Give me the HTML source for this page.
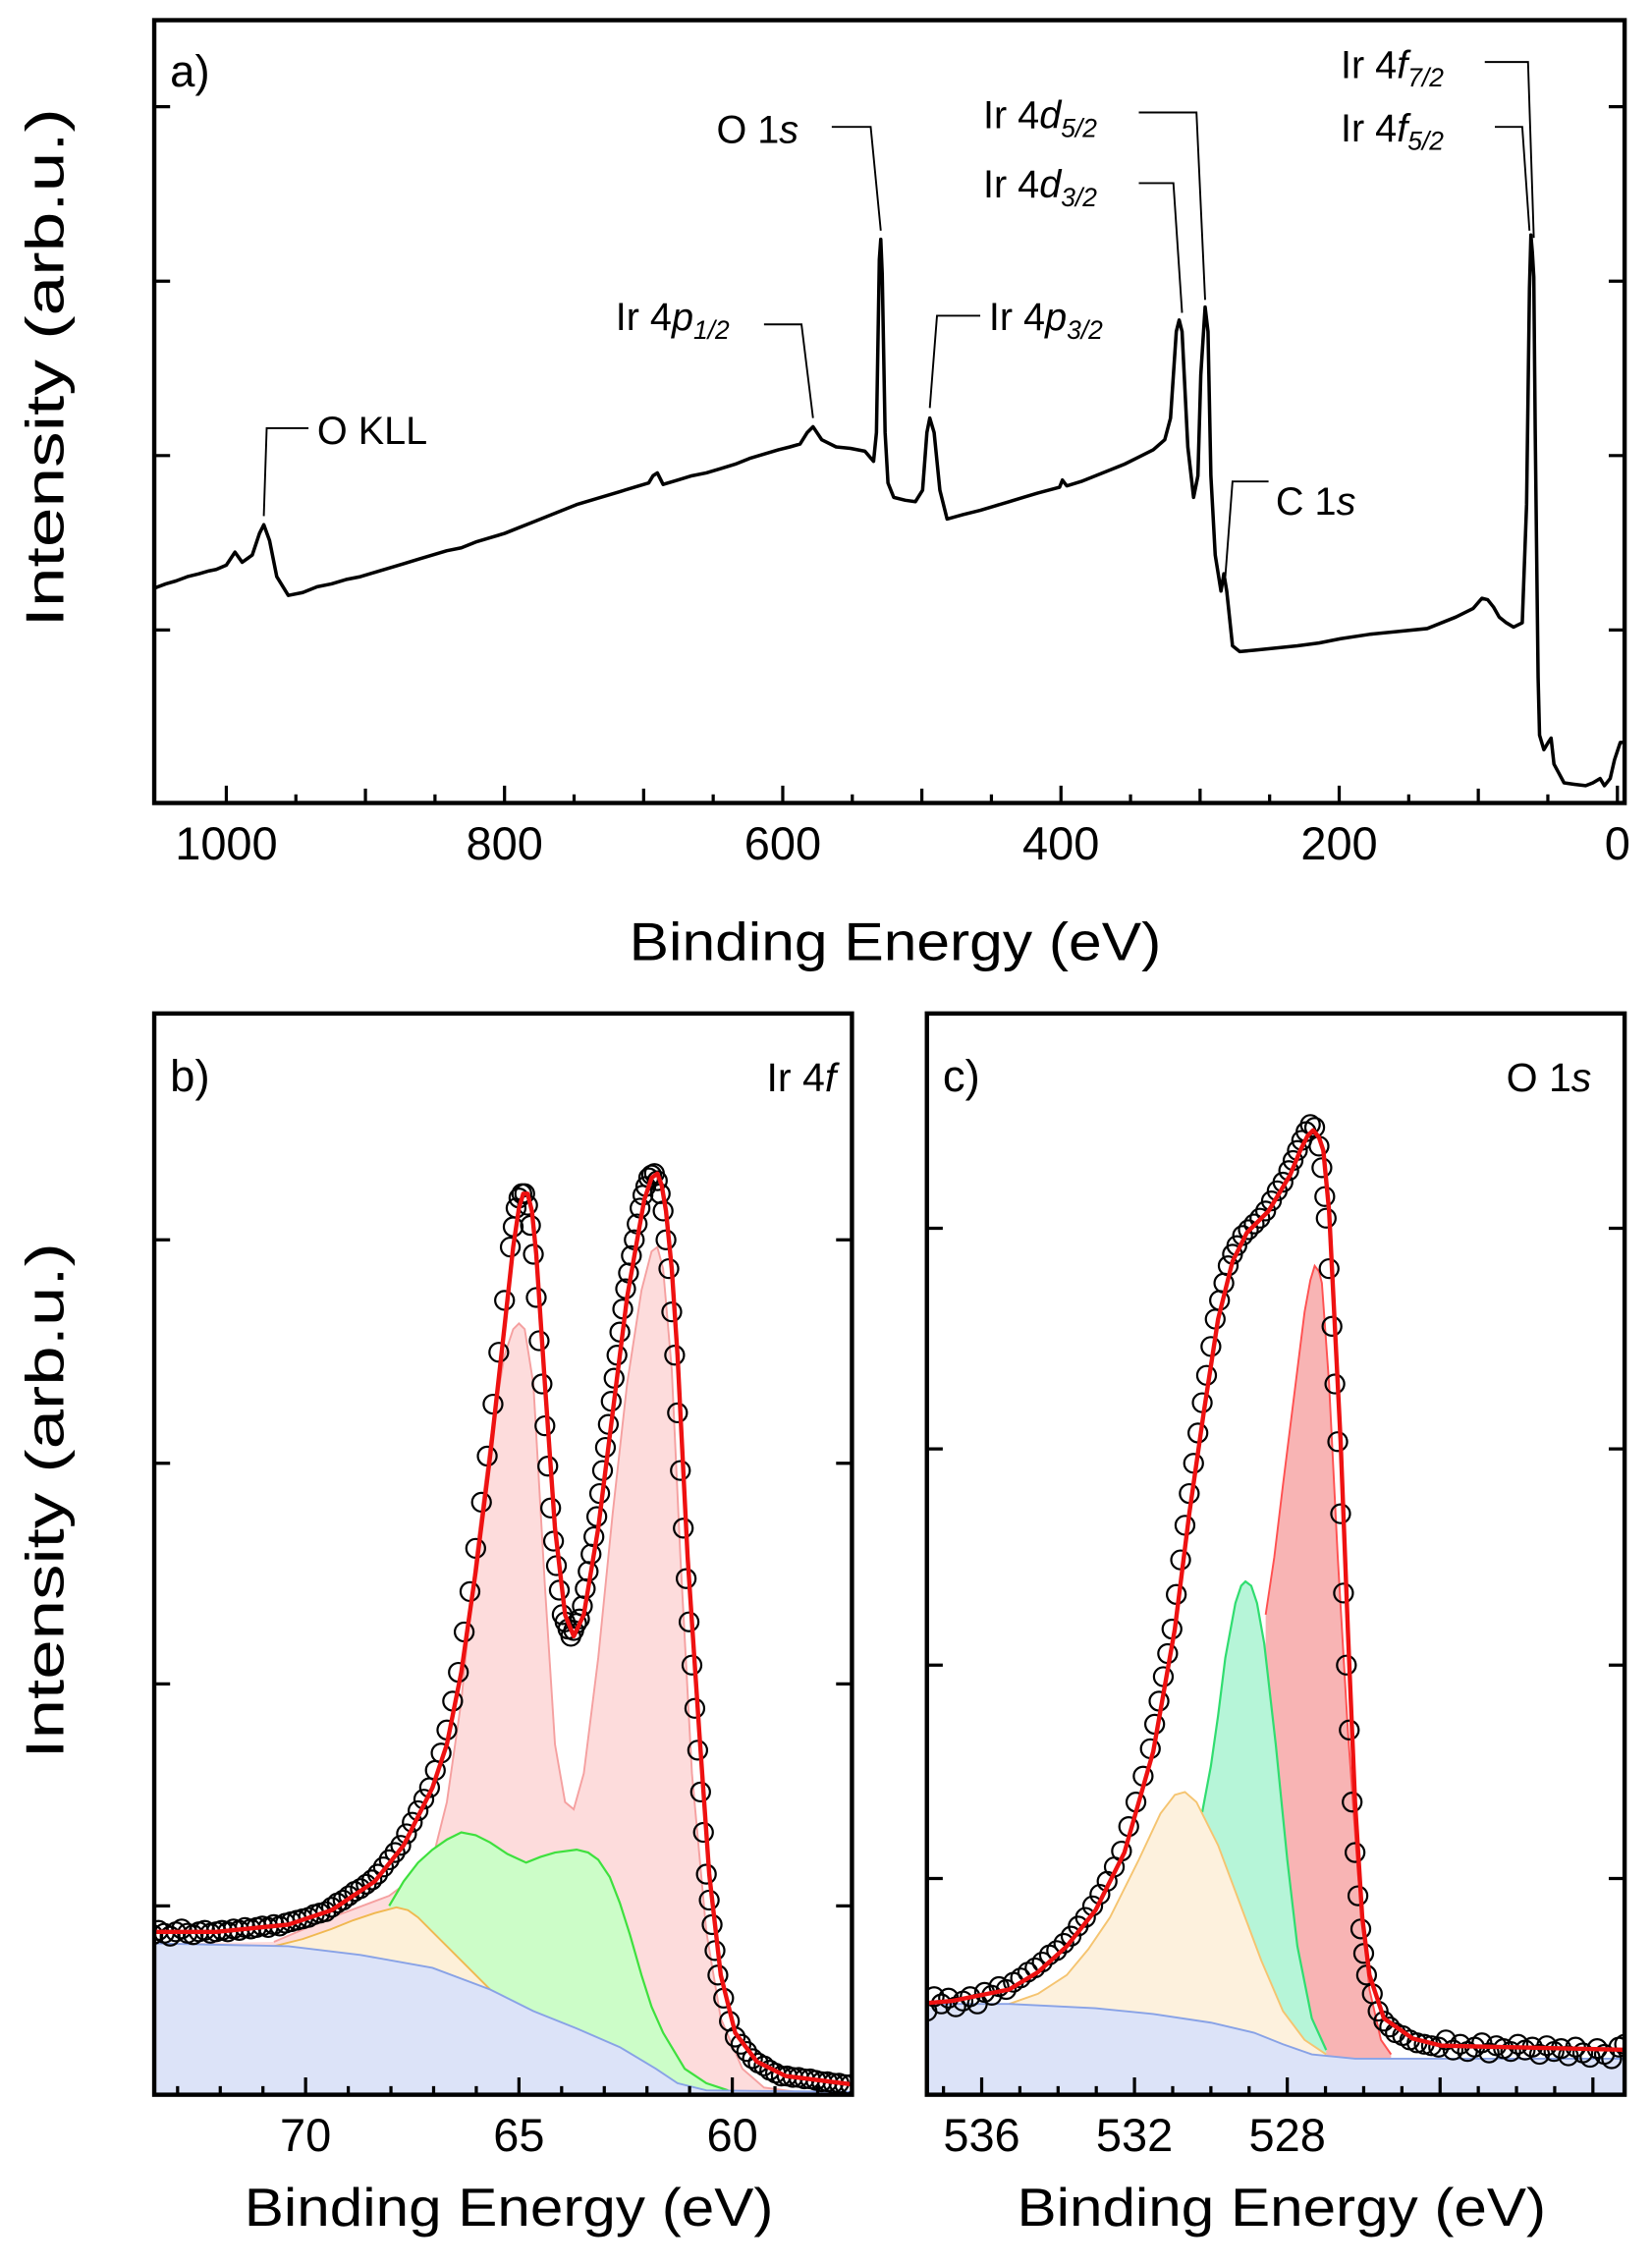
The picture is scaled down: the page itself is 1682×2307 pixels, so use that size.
<!DOCTYPE html>
<html><head><meta charset="utf-8">
<style>
html,body{margin:0;padding:0;background:#fff;}
svg{display:block;}
text{font-family:"Liberation Sans",Arial,sans-serif;fill:#000;}
</style></head>
<body>
<svg xmlns="http://www.w3.org/2000/svg" width="1682" height="2307" viewBox="0 0 1146 1571.8" preserveAspectRatio="none">
<defs>
<clipPath id="ca"><rect x="107" y="14" width="1020" height="543"/></clipPath>
<clipPath id="cb"><rect x="107" y="703" width="484" height="750"/></clipPath>
<clipPath id="cc"><rect x="643" y="703" width="484" height="750"/></clipPath>
<marker id="m" markerWidth="20" markerHeight="20" refX="10" refY="10" markerUnits="userSpaceOnUse" overflow="visible"><circle cx="10" cy="10" r="6.5" fill="none" stroke="#000" stroke-width="1.5"/></marker>
</defs>

<!-- Panel a spectrum -->
<polyline clip-path="url(#ca)" fill="none" stroke="#000" stroke-width="2.4" stroke-linejoin="round" points="107,408 115,405 122,403 130,400 138,398 145,396 150,395 157,392 163,383 168,390 175,385 180,370 183,364 187,375 192,400 200,413 210,411 220,407 230,405 240,402 250,400 260,397 270,394 280,391 290,388 300,385 310,382 320,380 330,376 340,373 350,370 360,366 370,362 380,358 390,354 400,350 410,347 420,344 430,341 440,338 450,335 453,330 456,328 460,336 470,333 480,330 490,328 500,325 510,322 520,318 530,315 540,312 548,310 555,308 560,300 564,296 570,305 580,310 590,311 600,313 606,320 608,300 610,180 611,166 612,190 614,300 616,335 620,345 628,347 635,348 640,340 643,300 645,290 648,300 652,340 657,360 668,357 680,354 690,351 700,348 710,345 720,342 735,338 737,333 740,337 750,334 760,330 770,326 780,322 790,317 800,312 808,305 812,290 816,230 818,222 820,230 824,310 828,345 831,330 833,260 836,213 838,230 840,330 843,385 847,410 849,398 851,410 855,448 860,452 870,451 880,450 890,449 900,448 915,446 930,443 950,440 970,438 990,436 1000,432 1010,428 1016,425 1022,422 1028,415 1032,416 1036,421 1040,428 1045,432 1050,435 1056,432 1059,350 1061,200 1062,163 1063,175 1064,192 1065,300 1067,470 1068,510 1071,520 1074,515 1076,512 1078,530 1085,543 1092,544 1100,545 1105,543 1110,540 1113,545 1117,540 1120,527 1124,515 1126,515"/>

<!-- Panel b -->
<g clip-path="url(#cb)">
<path fill="#fddcdc" d="M107,1348 L190,1347 L230,1330 L270,1315 L290,1300 L300,1290 L310,1250 L320,1180 L330,1080 L340,1000 L350,940 L356,922 L360,918 L364,922 L370,960 L378,1100 L385,1210 L392,1250 L398,1255 L405,1230 L415,1150 L425,1050 L435,960 L445,895 L452,868 L456,865 L460,880 L466,950 L472,1080 L480,1230 L490,1340 L500,1400 L515,1435 L530,1448 L560,1452 L591,1452 L591,1453 L107,1453 Z"/>
<path fill="none" stroke="#f5a0a0" stroke-width="1.3" d="M190,1347 L230,1330 L270,1315 L290,1300 L300,1290 L310,1250 L320,1180 L330,1080 L340,1000 L350,940 L356,922 L360,918 L364,922 L370,960 L378,1100 L385,1210 L392,1250 L398,1255 L405,1230 L415,1150 L425,1050 L435,960 L445,895 L452,868 L456,865 L460,880 L466,950 L472,1080 L480,1230 L490,1340 L500,1400 L515,1435 L530,1448 L560,1452"/>
<path fill="#ccfdc8" d="M270,1322 L280,1305 L290,1292 L300,1283 L310,1276 L320,1271 L330,1273 L340,1278 L352,1286 L365,1292 L375,1288 L385,1285 L400,1283 L408,1285 L415,1290 L423,1302 L430,1320 L437,1342 L445,1370 L452,1392 L460,1410 L475,1435 L490,1445 L505,1450 L505,1453 L270,1453 Z"/>
<path fill="none" stroke="#3ee03e" stroke-width="1.5" d="M270,1322 L280,1305 L290,1292 L300,1283 L310,1276 L320,1271 L330,1273 L340,1278 L352,1286 L365,1292 L375,1288 L385,1285 L400,1283 L408,1285 L415,1290 L423,1302 L430,1320 L437,1342 L445,1370 L452,1392 L460,1410 L475,1435 L490,1445 L505,1450"/>
<path fill="#fdf0d8" d="M190,1350 L210,1345 L230,1338 L245,1332 L260,1327 L275,1323 L283,1325 L290,1330 L300,1340 L310,1350 L325,1365 L340,1380 L355,1391 L370,1400 L382,1404 L382,1453 L190,1453 Z"/>
<path fill="none" stroke="#f0b850" stroke-width="1.3" d="M190,1350 L210,1345 L230,1338 L245,1332 L260,1327 L275,1323 L283,1325 L290,1330 L300,1340 L310,1350 L325,1365 L340,1380 L355,1391 L370,1400 L382,1404"/>
<path fill="#dce3f8" d="M107,1348 L200,1350 L250,1356 L300,1365 L340,1380 L370,1395 L400,1407 L430,1420 L455,1435 L470,1445 L490,1450 L591,1451 L591,1453 L107,1453 Z"/>
<path fill="none" stroke="#88a2e6" stroke-width="1.3" d="M107,1348 L200,1350 L250,1356 L300,1365 L340,1380 L370,1395 L400,1407 L430,1420 L455,1435 L470,1445 L490,1450 L591,1451"/>
<polyline transform="translate(-2,0)" fill="none" stroke="none" marker-start="url(#m)" marker-mid="url(#m)" marker-end="url(#m)" points="108,1342 112,1339 116,1341 120,1343 124,1340 128,1338 132,1341 136,1342 140,1340 144,1339 148,1341 152,1340 156,1339 160,1340 164,1338 168,1339 172,1337 176,1338 180,1337 184,1336 188,1337 192,1335 196,1336 200,1334 204,1333 208,1332 212,1331 216,1330 220,1328 224,1327 228,1326 232,1323 236,1320 240,1318 244,1315 248,1312 252,1310 256,1307 260,1304 264,1300 268,1295 272,1290 276,1285 280,1280 284,1272 288,1264 292,1256 296,1248 300,1240 304,1228 308,1216 312,1200 316,1180 320,1160 324,1132 328,1104 332,1074 336,1042 340,1010 344,974 348,938 352,902 356,865 358,851 360,838 362,831 364,828 366,828 368,836 370,850 372,870 374,900 376,930 378,960 380,989 382,1017 384,1046 386,1069 388,1086 390,1103 392,1120 394,1125 396,1130 398,1135 400,1131 402,1126 404,1123 406,1114 408,1102 410,1090 412,1078 414,1066 416,1052 418,1036 420,1020 422,1004 424,988 426,972 428,956 430,940 432,924 434,908 436,894 438,883 440,871 442,860 444,849 446,838 448,829 450,823 452,817 454,815 456,814 458,819 460,828 462,840 464,860 466,880 468,910 470,940 472,980 474,1020 476,1060 478,1095 480,1125 482,1155 484,1185 486,1214 488,1243 490,1271 492,1300 494,1318 496,1335 498,1353 500,1370 504,1386 508,1402 512,1413 516,1418 520,1423 524,1428 528,1431 532,1433 536,1436 540,1438 544,1440 548,1440 552,1441 556,1441 560,1442 564,1442 568,1443 572,1444 576,1444 580,1445 584,1445 588,1446 592,1446"/>
<path fill="none" stroke="#ee1111" stroke-width="3" stroke-linejoin="round" d="M100,1340 L150,1340 L200,1335 L230,1325 L260,1305 L280,1280 L300,1240 L310,1210 L320,1160 L330,1090 L340,1010 L350,920 L356,865 L360,838 L363,828 L366,828 L369,840 L372,870 L378,960 L385,1060 L392,1120 L398,1135 L405,1120 L415,1060 L425,980 L435,900 L442,860 L447,832 L452,817 L456,814 L459,822 L462,840 L466,880 L470,940 L477,1080 L485,1200 L492,1300 L500,1370 L510,1410 L525,1430 L545,1440 L600,1447"/>
</g>

<!-- Panel c -->
<g clip-path="url(#cc)">
<path fill="#f8b4b4" d="M878,1120 L884,1080 L890,1030 L900,950 L905,910 L909,888 L912,878 L915,882 L917,890 L922,960 L928,1080 L935,1200 L942,1300 L950,1380 L958,1415 L965,1425 L965,1453 L878,1453 Z"/>
<path fill="none" stroke="#ff5050" stroke-width="1.3" d="M878,1120 L884,1080 L890,1030 L900,950 L905,910 L909,888 L912,878 L915,882 L917,890 L922,960 L928,1080 L935,1200 L942,1300 L950,1380 L958,1415 L965,1425"/>
<path fill="#b6f5d8" d="M834,1257 L840,1225 L845,1190 L850,1150 L857,1112 L861,1100 L864,1097 L868,1100 L872,1112 L877,1140 L885,1210 L893,1290 L900,1350 L910,1400 L920,1422 L920,1453 L834,1453 Z"/>
<path fill="none" stroke="#30dd70" stroke-width="1.5" d="M834,1257 L840,1225 L845,1190 L850,1150 L857,1112 L861,1100 L864,1097 L868,1100 L872,1112 L877,1140 L885,1210 L893,1290 L900,1350 L910,1400 L920,1422"/>
<path fill="#fdf1dd" d="M700,1390 L720,1383 L740,1370 L755,1352 L770,1330 L790,1290 L805,1258 L815,1245 L822,1243 L830,1250 L845,1280 L860,1320 L875,1360 L890,1395 L905,1415 L920,1425 L920,1453 L700,1453 Z"/>
<path fill="none" stroke="#f5c470" stroke-width="1.3" d="M700,1390 L720,1383 L740,1370 L755,1352 L770,1330 L790,1290 L805,1258 L815,1245 L822,1243 L830,1250 L845,1280 L860,1320 L875,1360 L890,1395 L905,1415 L920,1425"/>
<path fill="#dce3f8" d="M643,1390 L700,1390 L760,1393 L800,1397 L840,1403 L870,1410 L890,1418 L910,1425 L940,1428 L1127,1428 L1127,1453 L643,1453 Z"/>
<path fill="none" stroke="#88a2e6" stroke-width="1.3" d="M643,1390 L700,1390 L760,1393 L800,1397 L840,1403 L870,1410 L890,1418 L910,1425 L940,1428 L1127,1428"/>
<polyline transform="translate(-2,0)" fill="none" stroke="none" marker-start="url(#m)" marker-mid="url(#m)" marker-end="url(#m)" points="645,1395 650,1385 655,1390 660,1386 665,1392 670,1388 675,1385 680,1390 685,1382 690,1384 695,1378 700,1380 705,1375 710,1372 715,1368 720,1365 725,1361 730,1356 735,1353 740,1348 745,1343 750,1336 755,1330 760,1322 765,1314 770,1305 775,1295 780,1284 785,1267 790,1250 795,1232 800,1213 803,1196 806,1180 809,1163 812,1147 815,1130 818,1106 821,1082 824,1058 827,1036 830,1015 833,994 836,973 839,954 842,934 845,915 848,902 851,890 854,878 857,870 860,864 864,857 868,853 872,849 876,845 880,840 884,833 888,826 892,820 896,812 899,805 902,798 905,791 908,785 911,780 914,782 917,795 919,810 921,830 922,845 924,880 926,920 928,960 930,1000 932,1050 934,1105 936,1155 938,1200 940,1250 942,1285 944,1315 946,1338 948,1355 950,1370 954,1383 958,1395 962,1402 966,1406 970,1410 975,1412 980,1415 985,1417 990,1418 995,1419 1000,1420 1005,1415 1010,1422 1015,1418 1020,1423 1025,1420 1030,1417 1035,1424 1040,1419 1045,1421 1050,1423 1055,1418 1060,1422 1065,1420 1070,1425 1075,1419 1080,1423 1085,1421 1090,1426 1095,1420 1100,1424 1105,1427 1110,1421 1115,1425 1120,1428 1125,1420 1129,1418"/>
<path fill="none" stroke="#ee1111" stroke-width="3" stroke-linejoin="round" d="M636,1390 L660,1388 L700,1380 L720,1368 L740,1350 L760,1325 L780,1285 L800,1215 L815,1130 L825,1050 L835,980 L845,915 L855,875 L865,855 L880,840 L895,815 L902,798 L907,788 L911,784 L915,789 L918,798 L922,840 L925,900 L930,1000 L935,1130 L940,1250 L945,1330 L950,1370 L960,1400 L980,1414 L1000,1419 L1135,1422"/>
</g>

<!-- ticks -->
<g stroke="#000" stroke-width="2.2" fill="none">
<path d="M157,557v-12 M205.25,557v-6 M253.5,557v-10 M301.75,557v-6 M350,557v-12 M398.25,557v-6 M446.5,557v-10 M494.75,557v-6 M543,557v-12 M591.25,557v-6 M639.5,557v-10 M687.75,557v-6 M736,557v-12 M784.25,557v-6 M832.5,557v-10 M880.75,557v-6 M929,557v-12 M977.25,557v-6 M1025.5,557v-10 M1073.75,557v-6 M1122,557v-12"/>
<path d="M107,74h11 M107,195h11 M107,316h11 M107,437h11 M1127,74h-11 M1127,195h-11 M1127,316h-11 M1127,437h-11"/>
<path d="M123.2,1453v-6 M152.8,1453v-6 M182.4,1453v-6 M212,1453v-12 M241.6,1453v-6 M271.2,1453v-6 M300.8,1453v-6 M330.4,1453v-6 M360,1453v-12 M389.6,1453v-6 M419.2,1453v-6 M448.8,1453v-6 M478.4,1453v-6 M508,1453v-12 M537.6,1453v-6 M567.2,1453v-6"/>
<path d="M107,860h11 M107,1015h11 M107,1168h11 M107,1322h11 M591,860h-11 M591,1015h-11 M591,1168h-11 M591,1322h-11"/>
<path d="M654.5,1453v-6 M681,1453v-12 M707.5,1453v-6 M734,1453v-6 M760.5,1453v-6 M787,1453v-12 M813.5,1453v-6 M840,1453v-6 M866.5,1453v-6 M893,1453v-12 M919.5,1453v-6 M946,1453v-6 M972.5,1453v-6 M999,1453v-12 M1025.5,1453v-6 M1052,1453v-6 M1078.5,1453v-6 M1105,1453v-12"/>
<path d="M643,852h11 M643,1005h11 M643,1155h11 M643,1303h11 M1127,852h-11 M1127,1005h-11 M1127,1155h-11 M1127,1303h-11"/>
</g>

<rect x="107" y="14" width="1020" height="543" fill="none" stroke="#000" stroke-width="3"/>
<rect x="107" y="703" width="484" height="750" fill="none" stroke="#000" stroke-width="3"/>
<rect x="643" y="703" width="484" height="750" fill="none" stroke="#000" stroke-width="3"/>

<text x="118" y="60" font-size="31">a)</text>
<g font-size="27">
<text x="220" y="308">O KLL</text>
<text x="427" y="229">Ir 4<tspan font-style="italic">p</tspan><tspan font-size="18" font-style="italic" dy="6">1/2</tspan></text>
<text x="497" y="99">O 1<tspan font-style="italic">s</tspan></text>
<text x="686" y="229">Ir 4<tspan font-style="italic">p</tspan><tspan font-size="18" font-style="italic" dy="6">3/2</tspan></text>
<text x="682" y="89">Ir 4<tspan font-style="italic">d</tspan><tspan font-size="18" font-style="italic" dy="6">5/2</tspan></text>
<text x="682" y="137">Ir 4<tspan font-style="italic">d</tspan><tspan font-size="18" font-style="italic" dy="6">3/2</tspan></text>
<text x="885" y="357">C 1<tspan font-style="italic">s</tspan></text>
<text x="930" y="54">Ir 4<tspan font-style="italic">f</tspan><tspan font-size="18" font-style="italic" dy="6">7/2</tspan></text>
<text x="930" y="98">Ir 4<tspan font-style="italic">f</tspan><tspan font-size="18" font-style="italic" dy="6">5/2</tspan></text>
</g>
<g fill="none" stroke="#000" stroke-width="1.3">
<polyline points="183,358 185,297 214,297"/>
<polyline points="530,225 556,225 564,290"/>
<polyline points="577,88 604,88 611,160"/>
<polyline points="645,283 650,219 680,219"/>
<polyline points="790,78 830,78 836,208"/>
<polyline points="790,127 814,127 820,217"/>
<polyline points="850,400 855,334 880,334"/>
<polyline points="1030,43 1060,43 1064,165"/>
<polyline points="1037,88 1056,88 1061,160"/>
</g>
<g font-size="32" text-anchor="middle">
<text x="157" y="596">1000</text><text x="350" y="596">800</text><text x="543" y="596">600</text>
<text x="736" y="596">400</text><text x="929" y="596">200</text><text x="1122" y="596">0</text>
</g>
<text x="621" y="666" font-size="37" text-anchor="middle" textLength="369" lengthAdjust="spacingAndGlyphs">Binding Energy (eV)</text>
<text transform="translate(44,255) rotate(-90)" font-size="37" text-anchor="middle" textLength="360" lengthAdjust="spacingAndGlyphs">Intensity (arb.u.)</text>

<text x="118" y="757" font-size="31">b)</text>
<text x="580" y="757" font-size="28" text-anchor="end">Ir 4<tspan font-style="italic">f</tspan></text>
<text x="654" y="757" font-size="31">c)</text>
<text x="1104" y="757" font-size="28" text-anchor="end">O 1<tspan font-style="italic">s</tspan></text>
<g font-size="32" text-anchor="middle">
<text x="212" y="1492">70</text><text x="360" y="1492">65</text><text x="508" y="1492">60</text>
<text x="681" y="1492">536</text><text x="787" y="1492">532</text><text x="893" y="1492">528</text>
</g>
<text x="353" y="1544" font-size="37" text-anchor="middle" textLength="367" lengthAdjust="spacingAndGlyphs">Binding Energy (eV)</text>
<text x="889" y="1544" font-size="37" text-anchor="middle" textLength="367" lengthAdjust="spacingAndGlyphs">Binding Energy (eV)</text>
<text transform="translate(44,1041) rotate(-90)" font-size="37" text-anchor="middle" textLength="358" lengthAdjust="spacingAndGlyphs">Intensity (arb.u.)</text>
</svg>
</body></html>
